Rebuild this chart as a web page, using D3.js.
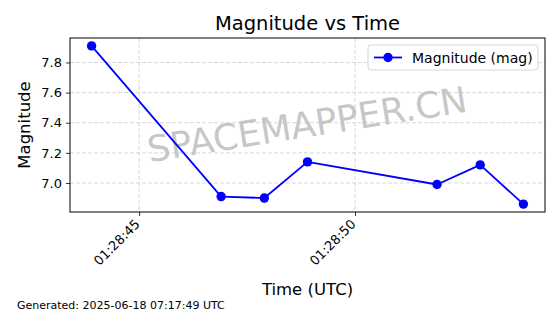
<!DOCTYPE html>
<html>
<head>
<meta charset="utf-8">
<script src="https://cdn.jsdelivr.net/npm/d3@7"></script>
<style>
  body { margin: 0; background: #fff; }
  svg { display: block; }
  svg text { font-family: "DejaVu Sans", sans-serif; }
</style>
</head>
<body>
<div id="chart-area"></div>
<script>
const width = 560, height = 314;
const margin = ({top: 38, right: 15, bottom: 102, left: 70});

// Data
const times = ["2025-06-18T01:28:43.9Z", "2025-06-18T01:28:46.9Z", "2025-06-18T01:28:47.9Z",
    "2025-06-18T01:28:48.9Z", "2025-06-18T01:28:51.9Z", "2025-06-18T01:28:52.9Z", "2025-06-18T01:28:53.9Z"];
const magnitudes = [7.91, 6.91, 6.90, 7.14, 6.99, 7.12, 6.86];
const xTicks = ["2025-06-18T01:28:45Z", "2025-06-18T01:28:50Z"];
const yTicks = [7.0, 7.2, 7.4, 7.6, 7.8];

const data = times.map((t, i) => ({t: new Date(t), v: magnitudes[i]}));

// matplotlib-style 5% padding
const tExt = d3.extent(data, d => d.t);
const tPad = (tExt[1] - tExt[0]) * 0.05;
const vExt = d3.extent(data, d => d.v);
const vPad = (vExt[1] - vExt[0]) * 0.05;

const x = d3.scaleUtc()
    .domain([new Date(+tExt[0] - tPad), new Date(+tExt[1] + tPad)])
    .range([margin.left, width - margin.right]);

const y = d3.scaleLinear()
    .domain([vExt[0] - vPad, vExt[1] + vPad])
    .range([height - margin.bottom, margin.top]);

const svg = d3.select("#chart-area").append("svg")
    .attr("width", width)
    .attr("height", height);

// grid
const grid = svg.append("g")
    .attr("stroke", "#cfcfcf")
    .attr("stroke-width", 0.8)
    .attr("stroke-dasharray", "4,2");
grid.selectAll(".gy").data(yTicks).enter().append("line")
    .attr("x1", margin.left).attr("x2", width - margin.right)
    .attr("y1", d => y(d)).attr("y2", d => y(d));
grid.selectAll(".gx").data(xTicks).enter().append("line")
    .attr("y1", margin.top).attr("y2", height - margin.bottom)
    .attr("x1", d => x(new Date(d))).attr("x2", d => x(new Date(d)));

// watermark
svg.append("text")
    .attr("transform", `translate(${(margin.left + width - margin.right) / 2},${127}) rotate(-9)`)
    .attr("text-anchor", "middle")
    .attr("dominant-baseline", "middle")
    .attr("font-size", 36)
    .attr("fill", "#bdbdbd")
    .attr("fill-opacity", 0.85)
    .text("SPACEMAPPER.CN");

// axes
const xAxis = svg.append("g")
    .attr("transform", `translate(0,${height - margin.bottom})`)
    .call(d3.axisBottom(x).tickValues(xTicks.map(d => new Date(d)))
        .tickFormat(d3.utcFormat("%H:%M:%S")).tickSize(4).tickSizeOuter(0));
xAxis.attr("font-family", null).attr("font-size", null);
xAxis.select(".domain").remove();
xAxis.selectAll(".tick line").attr("stroke", "#000").attr("stroke-width", 0.8);
xAxis.selectAll(".tick text")
    .attr("font-size", 13)
    .attr("fill", "#000")
    .attr("text-anchor", "end")
    .attr("dy", null)
    .attr("y", 0)
    .attr("transform", "translate(1,13) rotate(-45)");

const yAxis = svg.append("g")
    .attr("transform", `translate(${margin.left},0)`)
    .call(d3.axisLeft(y).tickValues(yTicks).tickFormat(d3.format(".1f")).tickSize(4).tickSizeOuter(0));
yAxis.attr("font-family", null).attr("font-size", null);
yAxis.select(".domain").remove();
yAxis.selectAll(".tick line").attr("stroke", "#000").attr("stroke-width", 0.8);
yAxis.selectAll(".tick text").attr("font-size", 13).attr("fill", "#000").attr("x", -8);

// frame
svg.append("rect")
    .attr("x", margin.left).attr("y", margin.top)
    .attr("width", width - margin.left - margin.right)
    .attr("height", height - margin.top - margin.bottom)
    .attr("fill", "none").attr("stroke", "#000").attr("stroke-width", 1);

// line + markers
const line = d3.line().x(d => x(d.t)).y(d => y(d.v));
svg.append("path")
    .datum(data)
    .attr("d", line)
    .attr("fill", "none")
    .attr("stroke", "#0000ff")
    .attr("stroke-width", 1.8)
    .attr("stroke-linejoin", "round");
svg.append("g").selectAll("circle").data(data).enter().append("circle")
    .attr("cx", d => x(d.t)).attr("cy", d => y(d.v))
    .attr("r", 4.7)
    .attr("fill", "#0000ff");

// legend
const lg = svg.append("g").attr("transform", "translate(368,45)");
lg.append("rect")
    .attr("width", 170).attr("height", 25).attr("rx", 3)
    .attr("fill", "#fff").attr("fill-opacity", 0.8)
    .attr("stroke", "#d6d6d6");
lg.append("line").attr("x1", 6).attr("x2", 34).attr("y1", 12.5).attr("y2", 12.5)
    .attr("stroke", "#0000ff").attr("stroke-width", 1.8);
lg.append("circle").attr("cx", 20).attr("cy", 12.5).attr("r", 4.7).attr("fill", "#0000ff");
lg.append("text").attr("x", 44).attr("y", 17.5).attr("font-size", 14).text("Magnitude (mag)");

// titles
svg.append("text")
    .attr("x", (margin.left + width - margin.right) / 2).attr("y", 30)
    .attr("text-anchor", "middle").attr("font-size", 19.5)
    .text("Magnitude vs Time");
svg.append("text")
    .attr("x", (margin.left + width - margin.right) / 2).attr("y", 295)
    .attr("text-anchor", "middle").attr("font-size", 16.5)
    .text("Time (UTC)");
svg.append("text")
    .attr("transform", `translate(30,${(margin.top + height - margin.bottom) / 2}) rotate(-90)`)
    .attr("text-anchor", "middle").attr("font-size", 16.5)
    .text("Magnitude");
svg.append("text")
    .attr("x", 17).attr("y", 309)
    .attr("font-size", 11)
    .text("Generated: 2025-06-18 07:17:49 UTC");
</script>
</body>
</html>
